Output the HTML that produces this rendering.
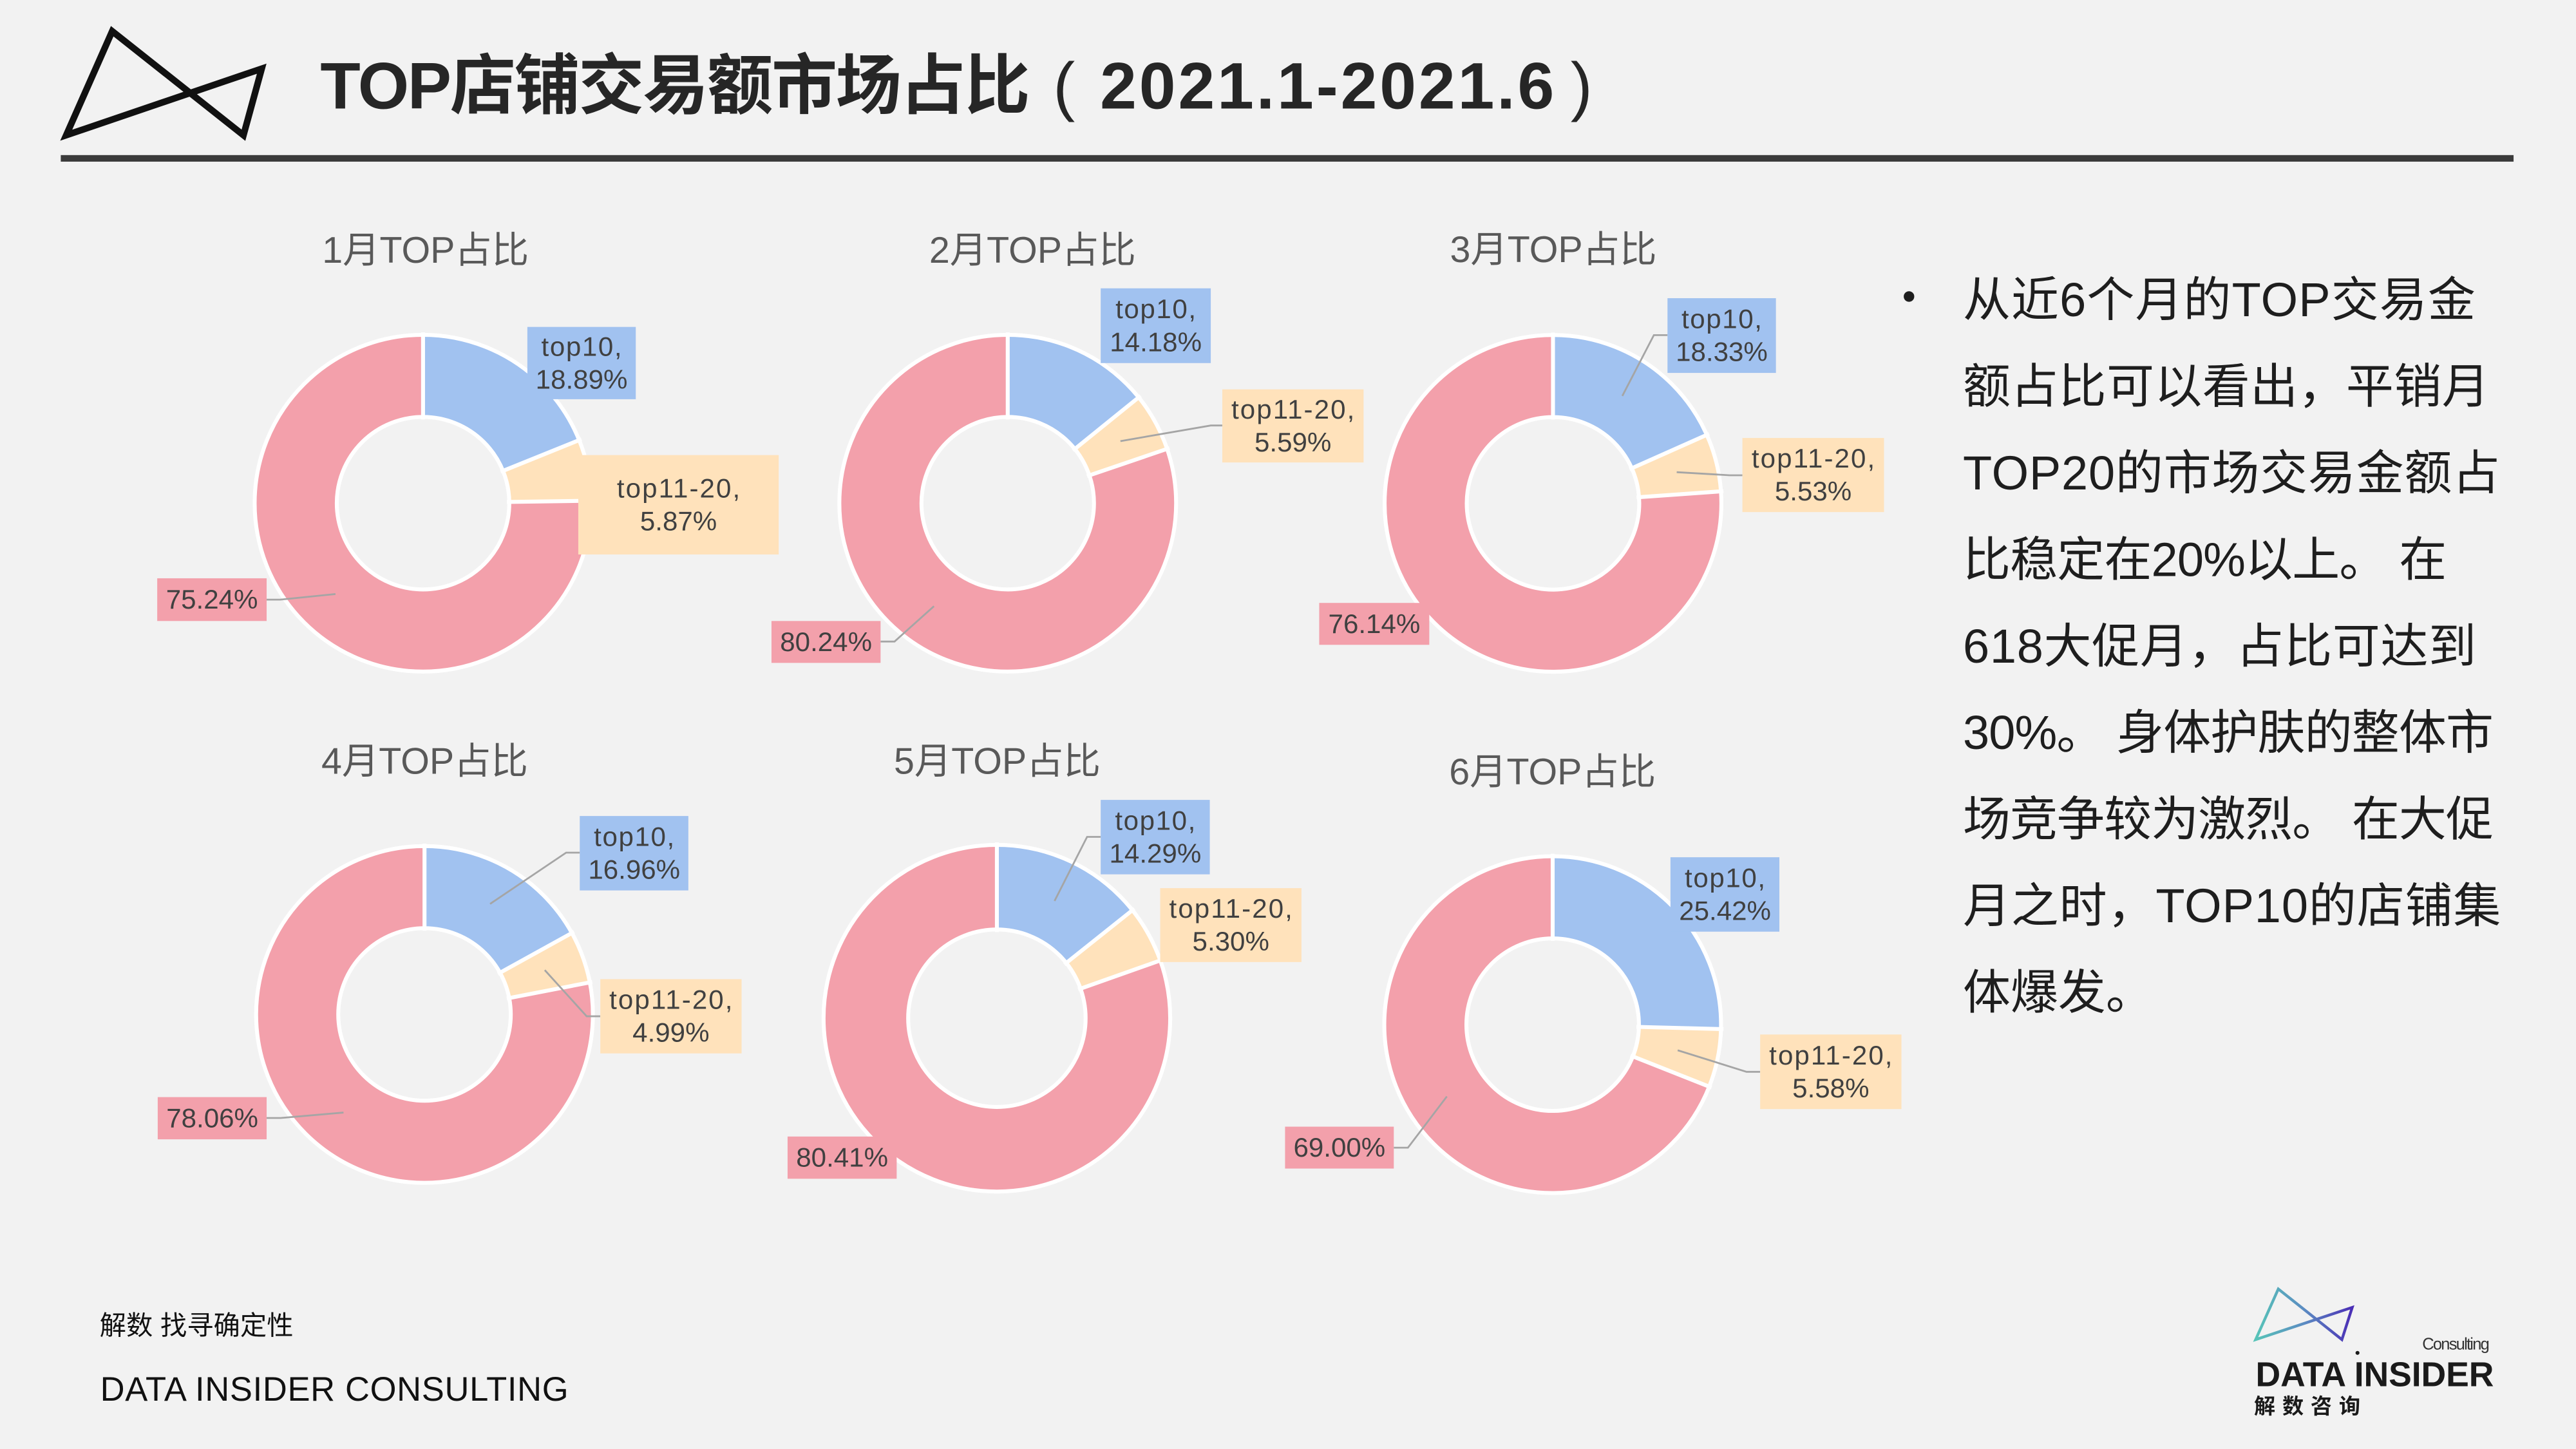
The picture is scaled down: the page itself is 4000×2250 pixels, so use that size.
<!DOCTYPE html>
<html>
<head>
<meta charset="utf-8">
<style>
html,body{margin:0;padding:0;background:#f2f2f2;}
svg{display:block;}
.t{font-family:"Liberation Sans","Noto Sans CJK SC",sans-serif;}
</style>
</head>
<body>
<svg width="4000" height="2250" viewBox="0 0 1568 882" xmlns="http://www.w3.org/2000/svg">
<defs>
<linearGradient id="lg" x1="1373" y1="0" x2="1432" y2="0" gradientUnits="userSpaceOnUse">
<stop offset="0" stop-color="#57C4B8"/><stop offset="0.5" stop-color="#5B8CC2"/><stop offset="1" stop-color="#4A2DB5"/>
</linearGradient>
</defs>
<rect x="0" y="0" width="1568" height="882" fill="#f2f2f2"/>

<!-- header -->
<polygon points="68.3,19 40.3,82.3 159.3,41.8 148.2,82.3" fill="none" stroke="#111" stroke-width="4" stroke-linejoin="miter"/>
<text class="t" x="195" y="66" font-size="40" font-weight="bold" fill="#262626" textLength="432">TOP店铺交易额市场占比</text>
<text class="t" x="641" y="66" font-size="40" fill="#262626">(</text>
<text class="t" x="669.6" y="66" font-size="40" font-weight="bold" fill="#262626" textLength="276.4">2021.1-2021.6</text>
<text class="t" x="956" y="66" font-size="40" fill="#262626">)</text>
<rect x="37" y="94.4" width="1493" height="4" fill="#3b3b3b"/>

<!-- chart titles -->
<g class="t" font-size="22.5" fill="#595959" text-anchor="middle">
<text x="259" y="160">1月TOP占比</text>
<text x="628.5" y="160">2月TOP占比</text>
<text x="945.5" y="159.5">3月TOP占比</text>
<text x="258.5" y="471">4月TOP占比</text>
<text x="607" y="471">5月TOP占比</text>
<text x="945" y="477.5">6月TOP占比</text>
</g>

<!-- Chart 1 -->
<g transform="translate(257.5 306.3)">
<circle r="77.5" fill="none" stroke="#F3A0AB" stroke-width="50"/>
<g transform="rotate(-90)">
<circle r="77.5" fill="none" stroke="#A1C2F0" stroke-width="50" stroke-dasharray="91.98 1000"/>
<circle r="77.5" fill="none" stroke="#FFE2BB" stroke-width="50" stroke-dasharray="0 91.98 28.58 1000"/>
</g>
<g stroke="#fff" stroke-width="2.4" fill="none">
<circle r="102.5"/><circle r="52.5"/>
<line x1="0" y1="-51" x2="0" y2="-104"/>
<line x1="0" y1="-51" x2="0" y2="-104" transform="rotate(68)"/>
<line x1="0" y1="-51" x2="0" y2="-104" transform="rotate(89.14)"/>
</g>
</g>

<!-- Chart 2 -->
<g transform="translate(613.4 306.3)">
<circle r="77.5" fill="none" stroke="#F3A0AB" stroke-width="50"/>
<g transform="rotate(-90)">
<circle r="77.5" fill="none" stroke="#A1C2F0" stroke-width="50" stroke-dasharray="69.05 1000"/>
<circle r="77.5" fill="none" stroke="#FFE2BB" stroke-width="50" stroke-dasharray="0 69.05 27.22 1000"/>
</g>
<g stroke="#fff" stroke-width="2.4" fill="none">
<circle r="102.5"/><circle r="52.5"/>
<line x1="0" y1="-51" x2="0" y2="-104"/>
<line x1="0" y1="-51" x2="0" y2="-104" transform="rotate(51.05)"/>
<line x1="0" y1="-51" x2="0" y2="-104" transform="rotate(71.17)"/>
</g>
</g>

<!-- Chart 3 -->
<g transform="translate(945.3 306.4)">
<circle r="77.5" fill="none" stroke="#F3A0AB" stroke-width="50"/>
<g transform="rotate(-90)">
<circle r="77.5" fill="none" stroke="#A1C2F0" stroke-width="50" stroke-dasharray="89.26 1000"/>
<circle r="77.5" fill="none" stroke="#FFE2BB" stroke-width="50" stroke-dasharray="0 89.26 26.93 1000"/>
</g>
<g stroke="#fff" stroke-width="2.4" fill="none">
<circle r="102.5"/><circle r="52.5"/>
<line x1="0" y1="-51" x2="0" y2="-104"/>
<line x1="0" y1="-51" x2="0" y2="-104" transform="rotate(65.99)"/>
<line x1="0" y1="-51" x2="0" y2="-104" transform="rotate(85.9)"/>
</g>
</g>

<!-- Chart 4 -->
<g transform="translate(258.4 617.5)">
<circle r="77.5" fill="none" stroke="#F3A0AB" stroke-width="50"/>
<g transform="rotate(-90)">
<circle r="77.5" fill="none" stroke="#A1C2F0" stroke-width="50" stroke-dasharray="82.59 1000"/>
<circle r="77.5" fill="none" stroke="#FFE2BB" stroke-width="50" stroke-dasharray="0 82.59 24.30 1000"/>
</g>
<g stroke="#fff" stroke-width="2.4" fill="none">
<circle r="102.5"/><circle r="52.5"/>
<line x1="0" y1="-51" x2="0" y2="-104"/>
<line x1="0" y1="-51" x2="0" y2="-104" transform="rotate(61.06)"/>
<line x1="0" y1="-51" x2="0" y2="-104" transform="rotate(79.02)"/>
</g>
</g>

<!-- Chart 5 -->
<g transform="translate(606.8 619.8)">
<circle r="79.75" fill="none" stroke="#F3A0AB" stroke-width="51.5"/>
<g transform="rotate(-90)">
<circle r="79.75" fill="none" stroke="#A1C2F0" stroke-width="51.5" stroke-dasharray="71.60 1000"/>
<circle r="79.75" fill="none" stroke="#FFE2BB" stroke-width="51.5" stroke-dasharray="0 71.60 26.56 1000"/>
</g>
<g stroke="#fff" stroke-width="2.4" fill="none">
<circle r="105.5"/><circle r="54"/>
<line x1="0" y1="-52.5" x2="0" y2="-107"/>
<line x1="0" y1="-52.5" x2="0" y2="-107" transform="rotate(51.44)"/>
<line x1="0" y1="-52.5" x2="0" y2="-107" transform="rotate(70.52)"/>
</g>
</g>

<!-- Chart 6 -->
<g transform="translate(945.1 623.7)">
<circle r="77.5" fill="none" stroke="#F3A0AB" stroke-width="50"/>
<g transform="rotate(-90)">
<circle r="77.5" fill="none" stroke="#A1C2F0" stroke-width="50" stroke-dasharray="123.78 1000"/>
<circle r="77.5" fill="none" stroke="#FFE2BB" stroke-width="50" stroke-dasharray="0 123.78 27.17 1000"/>
</g>
<g stroke="#fff" stroke-width="2.4" fill="none">
<circle r="102.5"/><circle r="52.5"/>
<line x1="0" y1="-51" x2="0" y2="-104"/>
<line x1="0" y1="-51" x2="0" y2="-104" transform="rotate(91.51)"/>
<line x1="0" y1="-51" x2="0" y2="-104" transform="rotate(111.6)"/>
</g>
</g>

<!-- leader lines -->
<g fill="none" stroke="#A5A5A5" stroke-width="1.1">
<polyline points="162.3,365 170.5,365 204.2,361.6"/>
<polyline points="744,259 737,259 682,268.5"/>
<polyline points="536,390.5 544.5,390.5 568.5,369"/>
<polyline points="1015,204 1006.7,204 987.5,241"/>
<polyline points="1060.6,289.3 1052.8,289.3 1020.6,287.4"/>
<polyline points="352.9,519 344.6,519 298.3,550.2"/>
<polyline points="365.4,618.6 357.1,618.6 331.6,590.5"/>
<polyline points="162.3,680.5 170.9,680.5 209.1,677.2"/>
<polyline points="670,509.4 661.7,509.4 641.9,548.4"/>
<polyline points="1071.4,652.4 1063.1,652.4 1021.2,639.3"/>
<polyline points="848.4,698.6 857,698.6 880.7,667.4"/>
</g>

<!-- label boxes -->
<g>
<rect x="321" y="199" width="66" height="44" fill="#A1C2F0"/>
<rect x="352" y="277" width="122" height="60.5" fill="#FFE2BB"/>
<rect x="95.7" y="352" width="66.6" height="26" fill="#F3A0AB"/>

<rect x="670" y="175.5" width="67" height="45.5" fill="#A1C2F0"/>
<rect x="744" y="237" width="86" height="44.5" fill="#FFE2BB"/>
<rect x="469.6" y="378" width="66.4" height="25.5" fill="#F3A0AB"/>

<rect x="1015" y="181.5" width="66" height="45.5" fill="#A1C2F0"/>
<rect x="1060.6" y="266.6" width="86.2" height="45.1" fill="#FFE2BB"/>
<rect x="803" y="367" width="67" height="25.5" fill="#F3A0AB"/>

<rect x="352.9" y="496.7" width="66.1" height="45.3" fill="#A1C2F0"/>
<rect x="365.4" y="596" width="86" height="45.2" fill="#FFE2BB"/>
<rect x="96" y="667.8" width="66.3" height="25.7" fill="#F3A0AB"/>

<rect x="670" y="486.9" width="66.4" height="45.3" fill="#A1C2F0"/>
<rect x="706.2" y="540.6" width="86" height="45" fill="#FFE2BB"/>
<rect x="479.4" y="691.8" width="66.4" height="25.7" fill="#F3A0AB"/>

<rect x="1016.8" y="521.8" width="66.3" height="45.3" fill="#A1C2F0"/>
<rect x="1071.4" y="629.7" width="86" height="45.4" fill="#FFE2BB"/>
<rect x="782.2" y="685.8" width="66.2" height="25.5" fill="#F3A0AB"/>
</g>

<!-- label text -->
<g class="t" font-size="16.5" fill="#404040" text-anchor="middle">
<text x="354" y="216.5" textLength="49">top10,</text>
<text x="354" y="236.5">18.89%</text>
<text x="413" y="302.75" textLength="75">top11-20,</text>
<text x="413" y="322.75">5.87%</text>
<text x="129" y="370.5">75.24%</text>

<text x="703.5" y="193.75" textLength="49">top10,</text>
<text x="703.5" y="213.75">14.18%</text>
<text x="787" y="254.75" textLength="75">top11-20,</text>
<text x="787" y="274.75">5.59%</text>
<text x="502.8" y="396.25">80.24%</text>

<text x="1048" y="199.75" textLength="49">top10,</text>
<text x="1048" y="219.75">18.33%</text>
<text x="1103.7" y="284.65" textLength="75">top11-20,</text>
<text x="1103.7" y="304.65">5.53%</text>
<text x="836.5" y="385.25">76.14%</text>

<text x="386" y="514.85" textLength="49">top10,</text>
<text x="386" y="534.85">16.96%</text>
<text x="408.4" y="614.1" textLength="75">top11-20,</text>
<text x="408.4" y="634.1">4.99%</text>
<text x="129.2" y="686.15">78.06%</text>

<text x="703.2" y="505.05" textLength="49">top10,</text>
<text x="703.2" y="525.05">14.29%</text>
<text x="749.2" y="558.6" textLength="75">top11-20,</text>
<text x="749.2" y="578.6">5.30%</text>
<text x="512.6" y="710.15">80.41%</text>

<text x="1050" y="539.95" textLength="49">top10,</text>
<text x="1050" y="559.95">25.42%</text>
<text x="1114.4" y="647.9" textLength="75">top11-20,</text>
<text x="1114.4" y="667.9">5.58%</text>
<text x="815.3" y="704.05">69.00%</text>
</g>

<!-- right text -->
<circle cx="1162" cy="180.5" r="3.2" fill="#1e1e1e"/>
<g class="t" font-size="29" fill="#1e1e1e">
<text x="1194.8" y="192.5" textLength="312">从近6个月的TOP交易金</text>
<text x="1194.8" y="245.2" textLength="320.5">额占比可以看出，平销月</text>
<text x="1194.8" y="297.9" textLength="327">TOP20的市场交易金额占</text>
<text x="1194.8" y="350.6" textLength="294.5">比稳定在20%以上。 在</text>
<text x="1194.8" y="403.3" textLength="312.5">618大促月，占比可达到</text>
<text x="1194.8" y="456" textLength="323">30%。 身体护肤的整体市</text>
<text x="1194.8" y="508.7" textLength="323">场竞争较为激烈。 在大促</text>
<text x="1194.8" y="561.4" textLength="327.5">月之时，TOP10的店铺集</text>
<text x="1194.8" y="614.1">体爆发。</text>
</g>

<!-- footer left -->
<g class="t" fill="#111">
<text x="60.6" y="812.5" font-size="16.2" textLength="118">解数 找寻确定性</text>
<text x="61" y="852.6" font-size="20.6" textLength="285">DATA INSIDER CONSULTING</text>
</g>

<!-- footer right logo -->
<polygon points="1386.8,784.6 1373,815.4 1431.8,795.8 1425.5,815.4" fill="none" stroke="url(#lg)" stroke-width="1.7" stroke-linejoin="miter"/>
<text class="t" x="1474.4" y="821.5" font-size="10" fill="#333" textLength="41">Consulting</text>
<text class="t" x="1373" y="843.8" font-size="21" font-weight="bold" fill="#1a1a1a" textLength="145">DATA INSIDER</text>
<circle cx="1435" cy="823.5" r="1.2" fill="#1a1a1a"/>
<text class="t" x="1372" y="860.5" font-size="13" font-weight="bold" fill="#1a1a1a" textLength="64.7">解数咨询</text>
</svg>
</body>
</html>
